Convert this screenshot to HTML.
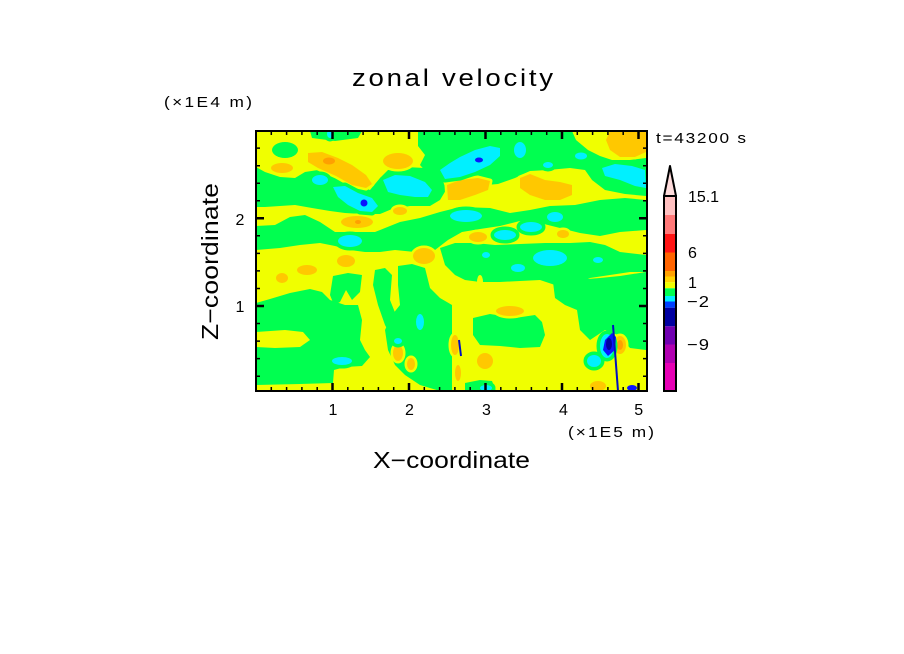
<!DOCTYPE html>
<html><head><meta charset="utf-8"><style>
html,body{margin:0;padding:0;background:#fff;}
svg{display:block;}
text{font-family:"Liberation Sans",sans-serif;fill:#000;}
</style></head><body>
<svg width="904" height="654" viewBox="0 0 904 654" xmlns="http://www.w3.org/2000/svg">
<defs><clipPath id="c"><rect x="256" y="131" width="391" height="260"/></clipPath></defs>
<rect x="0" y="0" width="904" height="654" fill="#fff"/>
<g clip-path="url(#c)">
<rect x="256" y="131" width="391" height="260" fill="#f0ff00"/>
<g fill="#00ff50">
<ellipse cx="285" cy="150" rx="13" ry="8"/>
<polygon points="310,131 362,131 358,138 335,141 312,138"/>
<polygon points="418,131 572,131 576,140 588,150 600,156 612,160 630,160 646,158 646,196 625,194 605,190 592,180 585,170 570,168 548,170 530,171 515,178 498,184 475,186 455,184 442,180 430,176 420,165 425,155 418,146"/>
<polygon points="256,167 265,172 280,177 295,178 305,172 318,170 335,178 352,183 370,190 380,178 388,170 405,167 425,168 442,178 446,190 440,200 430,206 410,206 392,209 380,214 362,214 345,213 330,211 312,208 295,205 280,206 265,207 256,207"/>
<polygon points="256,226 275,225 290,217 305,215 320,222 335,232 375,232 390,226 400,222 420,218 440,212 460,207 490,208 510,213 530,210 550,206 575,205 600,200 625,198 646,200 646,230 620,232 600,236 580,233 560,228 540,223 520,221 500,226 480,229 462,232 448,240 435,250 415,252 395,250 380,252 365,252 350,250 335,246 320,243 300,245 280,248 256,250"/>
<polygon points="440,248 455,243 475,243 495,245 520,244 545,243 570,243 590,242 605,245 620,252 646,255 646,272 630,272 610,275 590,278 575,285 555,285 540,280 520,281 500,282 480,282 465,280 455,275 445,265"/>
<polygon points="553,282 575,280 600,278 620,276 646,272 646,350 630,348 618,335 605,330 590,340 580,330 577,310 565,305 555,298"/>
<polygon points="256,303 270,299 290,293 310,289 322,292 330,300 345,305 358,305 362,320 360,340 365,350 370,357 362,366 345,367 334,370 333,383 300,384 256,385"/>
<polygon points="333,276 348,273 362,275 360,292 352,300 346,290 340,302 334,305 330,295"/>
<polygon points="375,270 385,268 392,275 390,300 398,320 400,335 392,338 385,325 378,305 373,285"/>
<polygon points="398,266 412,264 425,268 430,288 440,298 452,305 452,391 440,391 420,385 405,375 395,365 388,350 385,330 392,315 400,305 398,285"/>
<polygon points="473,318 490,314 515,318 535,315 542,322 545,335 540,347 520,348 500,346 480,345 473,335"/>
<polygon points="465,383 480,380 492,381 496,391 465,391"/>
</g>
<polygon fill="#f0ff00" points="256,332 285,330 303,332 310,340 300,347 275,348 256,347"/>
<ellipse cx="480" cy="282" rx="3" ry="7" fill="#f0ff00"/>
<g fill="#ffc800" stroke="#f0ff00" stroke-width="5" paint-order="stroke" stroke-linejoin="round">
<ellipse cx="282" cy="168" rx="11" ry="5"/>
<polygon points="308,153 322,152 338,158 352,165 366,175 372,184 366,188 352,185 336,176 318,168 308,162"/>
<ellipse cx="398" cy="161" rx="15" ry="8"/>
<polygon points="447,185 460,180 478,178 490,181 488,190 475,195 460,200 448,200"/>
<polygon points="520,178 530,174 545,180 560,182 572,185 572,195 560,200 545,200 530,195 520,188"/>
<polygon points="610,131 646,131 646,152 635,157 620,157 610,150 606,140"/>
<ellipse cx="357" cy="222" rx="16" ry="6"/>
<ellipse cx="400" cy="211" rx="7" ry="4"/>
<ellipse cx="424" cy="256" rx="11" ry="8"/>
<ellipse cx="346" cy="261" rx="9" ry="6"/>
<ellipse cx="307" cy="270" rx="10" ry="5"/>
<ellipse cx="282" cy="278" rx="6" ry="5"/>
<ellipse cx="478" cy="237" rx="9" ry="5"/>
<ellipse cx="563" cy="234" rx="6" ry="4"/>
<ellipse cx="510" cy="311" rx="14" ry="5"/>
<ellipse cx="485" cy="361" rx="8" ry="8"/>
<ellipse cx="620" cy="345" rx="6" ry="9"/>
<ellipse cx="598" cy="386" rx="8" ry="5"/>
<ellipse cx="398" cy="353" rx="5" ry="8"/>
<ellipse cx="411" cy="364" rx="4" ry="6"/>
<ellipse cx="455" cy="345" rx="4" ry="10"/>
<ellipse cx="458" cy="373" rx="3" ry="8"/>
</g>
<g fill="#ffa000">
<ellipse cx="329" cy="161" rx="6" ry="3.5"/>
<ellipse cx="358" cy="222" rx="3" ry="2"/>
<ellipse cx="620" cy="345" rx="3" ry="5"/>
</g>
<g fill="#00f0ff" stroke="#00ff50" stroke-width="7" paint-order="stroke" stroke-linejoin="round">
<ellipse cx="330" cy="134" rx="3" ry="4"/>
<ellipse cx="320" cy="180" rx="8" ry="5"/>
<polygon points="333,187 345,186 358,193 372,198 378,206 372,212 360,211 348,205 338,197"/>
<polygon points="383,180 395,175 410,176 425,182 432,190 428,197 415,197 400,195 388,192"/>
<polygon points="440,170 450,163 460,157 475,150 490,146 500,148 500,156 490,165 475,172 460,177 445,179"/>
<ellipse cx="520" cy="150" rx="6" ry="8"/>
<ellipse cx="548" cy="165" rx="5" ry="3"/>
<ellipse cx="581" cy="156" rx="6" ry="3.5"/>
<polygon points="602,168 615,164 632,166 645,170 646,188 635,186 620,180 605,176"/>
<ellipse cx="466" cy="216" rx="16" ry="6"/>
<ellipse cx="555" cy="217" rx="8" ry="5"/>
<ellipse cx="505" cy="235" rx="11" ry="5"/>
<ellipse cx="531" cy="227" rx="11" ry="5"/>
<ellipse cx="350" cy="241" rx="12" ry="6"/>
<ellipse cx="550" cy="258" rx="17" ry="8"/>
<ellipse cx="598" cy="260" rx="5" ry="3"/>
<ellipse cx="486" cy="255" rx="4" ry="3"/>
<ellipse cx="518" cy="268" rx="7" ry="4"/>
<ellipse cx="420" cy="322" rx="4" ry="8"/>
<ellipse cx="342" cy="361" rx="10" ry="4"/>
<ellipse cx="594" cy="361" rx="7" ry="6"/>
<ellipse cx="398" cy="341" rx="4" ry="3"/>
<ellipse cx="607" cy="346" rx="7" ry="12"/>
<ellipse cx="486" cy="388" rx="6" ry="3"/>
</g>
<g fill="#0a14ff">
<circle cx="364" cy="203" r="3.5"/>
<ellipse cx="479" cy="160" rx="4" ry="2.5"/>
<polygon points="605,340 612,333 616,337 615,350 608,356 603,350"/>
<ellipse cx="632" cy="388" rx="5" ry="3"/>
</g>
<ellipse cx="609" cy="344" rx="3" ry="6" fill="#0000a0"/>
<line x1="613" y1="325" x2="618" y2="391" stroke="#0010c0" stroke-width="2"/>
<line x1="459" y1="340" x2="461" y2="356" stroke="#0010c0" stroke-width="2"/>
</g>
<!-- frame -->
<rect x="256" y="131" width="391" height="260" fill="none" stroke="#000" stroke-width="2"/>
<g stroke="#000" stroke-width="1.5">
<path d="M271.3,391v-4M286.6,391v-4M301.9,391v-4M317.2,391v-4M347.8,391v-4M363.1,391v-4M378.4,391v-4M393.7,391v-4M424.3,391v-4M439.6,391v-4M454.9,391v-4M470.2,391v-4M500.8,391v-4M516.1,391v-4M531.4,391v-4M546.7,391v-4M577.3,391v-4M592.6,391v-4M607.9,391v-4M623.2,391v-4"/>
<path d="M271.3,131v4M286.6,131v4M301.9,131v4M317.2,131v4M347.8,131v4M363.1,131v4M378.4,131v4M393.7,131v4M424.3,131v4M439.6,131v4M454.9,131v4M470.2,131v4M500.8,131v4M516.1,131v4M531.4,131v4M546.7,131v4M577.3,131v4M592.6,131v4M607.9,131v4M623.2,131v4"/>
<path d="M256,148.1h4M256,165.7h4M256,183.2h4M256,200.8h4M256,235.8h4M256,253.4h4M256,270.9h4M256,288.5h4M256,323.5h4M256,341.1h4M256,358.6h4M256,376.2h4"/>
<path d="M647,148.1h-4M647,165.7h-4M647,183.2h-4M647,200.8h-4M647,235.8h-4M647,253.4h-4M647,270.9h-4M647,288.5h-4M647,323.5h-4M647,341.1h-4M647,358.6h-4M647,376.2h-4"/>
</g>
<g stroke="#000" stroke-width="2.5">
<path d="M332.5,391v-8M409,391v-8M485.5,391v-8M562,391v-8M638.5,391v-8"/>
<path d="M332.5,131v8M409,131v8M485.5,131v8M562,131v8M638.5,131v8"/>
<path d="M256,218.3h8M256,306h8M647,218.3h-8M647,306h-8"/>
</g>
<!-- labels (horizontally widened glyphs) -->
<g transform="scale(1.15,1)">
<text x="306.1" y="86" font-size="24" textLength="174.8" lengthAdjust="spacing">zonal velocity</text>
<text x="142.6" y="107" font-size="15" textLength="76.5" lengthAdjust="spacing">(×1E4 m)</text>
<text x="570.4" y="143" font-size="15" textLength="78.3" lengthAdjust="spacing">t=43200 s</text>
<text x="493.9" y="437" font-size="15" textLength="74.8" lengthAdjust="spacing">(×1E5 m)</text>
<text x="324.3" y="468" font-size="23" textLength="136.5" lengthAdjust="spacing">X−coordinate</text>
<text x="597.4" y="307" font-size="16" textLength="19.1" lengthAdjust="spacing">−2</text>
<text x="597.4" y="350" font-size="16" textLength="19.1" lengthAdjust="spacing">−9</text>
</g>
<text transform="translate(218,340) rotate(-90) scale(1.15,1)" font-size="23" textLength="136.5" lengthAdjust="spacing">Z−coordinate</text>
<g font-size="16" text-anchor="middle">
<text x="240" y="225">2</text>
<text x="240" y="312">1</text>
<text x="333" y="415">1</text>
<text x="409.5" y="415">2</text>
<text x="486.5" y="415">3</text>
<text x="563.5" y="415">4</text>
<text x="638.7" y="415">5</text>
</g>
<!-- colorbar -->
<g>
<rect x="664" y="196" width="12" height="19" fill="#ffc0c0"/>
<rect x="664" y="215" width="12" height="19" fill="#ff7878"/>
<rect x="664" y="234" width="12" height="18.5" fill="#ff1414"/>
<rect x="664" y="252.5" width="12" height="18.5" fill="#ff6400"/>
<rect x="664" y="271" width="12" height="5.5" fill="#ffa000"/>
<rect x="664" y="276.5" width="12" height="5.8" fill="#ffd200"/>
<rect x="664" y="282.3" width="12" height="6" fill="#f0ff00"/>
<rect x="664" y="288.3" width="12" height="7.7" fill="#00ff50"/>
<rect x="664" y="296" width="12" height="5.5" fill="#00f0ff"/>
<rect x="664" y="301.5" width="12" height="6.2" fill="#0040ff"/>
<rect x="664" y="307.7" width="12" height="18.6" fill="#0000a0"/>
<rect x="664" y="326.3" width="12" height="18.2" fill="#7000b0"/>
<rect x="664" y="344.5" width="12" height="18.5" fill="#b000b0"/>
<rect x="664" y="363" width="12" height="28" fill="#e600b4"/>
<rect x="664" y="196" width="12" height="195" fill="none" stroke="#000" stroke-width="2"/>
<polygon points="670,166 676,196 664,196" fill="#ffdcdc" stroke="#000" stroke-width="2" stroke-linejoin="round"/>
</g>
<g font-size="16">
<text x="688" y="202" textLength="31" lengthAdjust="spacing">15.1</text>
<text x="688" y="258">6</text>
<text x="688" y="288">1</text>
</g>
</svg>
</body></html>
